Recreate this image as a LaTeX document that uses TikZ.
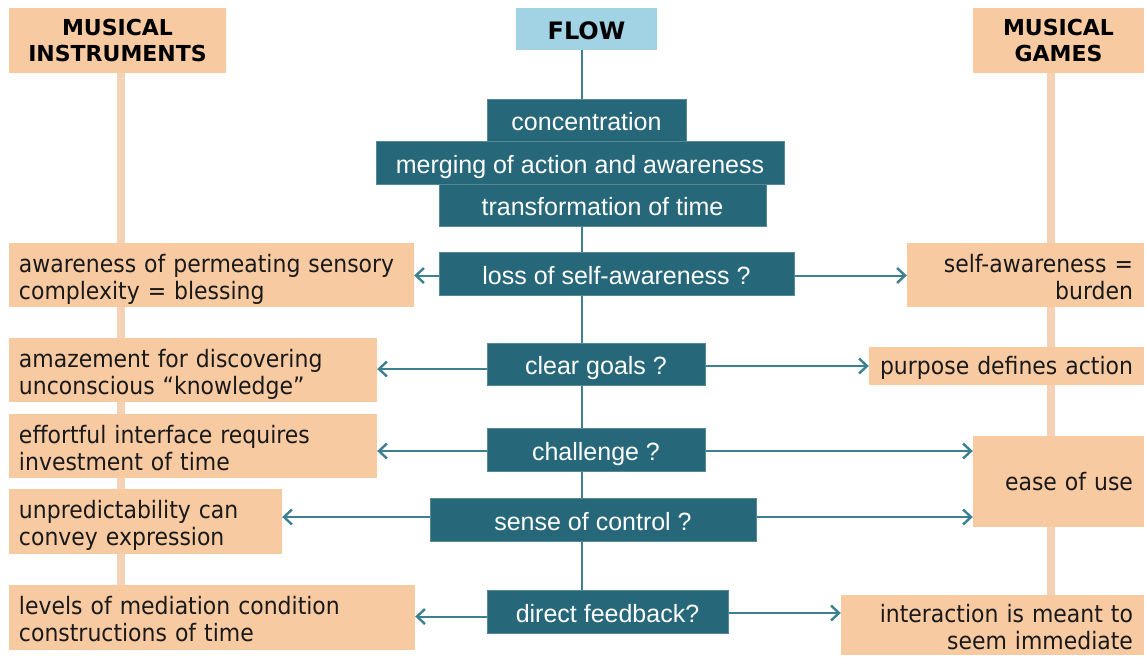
\documentclass[tikz,border=0pt]{standalone}
\usepackage{fontspec}
\usetikzlibrary{arrows.meta,backgrounds}
\newfontfamily\peachfont[FakeStretch=0.915]{DejaVu Sans}
\newfontfamily\headfont{DejaVu Sans}
\newfontfamily\tealfont{Liberation Sans}
\definecolor{tealbox}{RGB}{38,104,121}
\definecolor{tealedge}{RGB}{88,135,150}
\definecolor{peach}{RGB}{248,202,162}
\definecolor{flowblue}{RGB}{161,211,228}
\definecolor{connc}{RGB}{60,128,145}
\definecolor{peachline}{RGB}{245,210,182}
\definecolor{textblack}{RGB}{25,25,25}
\newcommand\topst{\rule{0pt}{26pt}}
\newcommand\botst{\rule[-5pt]{0pt}{5pt}}
\newcommand\onest{\rule[-3pt]{0pt}{24pt}}
\tikzset{
  tbox/.style={fill=tealbox, draw=tealedge, line width=0.6pt, text=white,
    font=\tealfont\fontsize{25}{30}\selectfont, inner sep=0pt, text height=24pt, text depth=3pt},
  pbox/.style={fill=peach, text=textblack,
    font=\peachfont\fontsize{24}{27}\selectfont, inner xsep=10pt, inner ysep=0pt},
  hbox/.style={fill=peach, text=black, align=center, inner sep=0pt,
    font=\headfont\bfseries\fontsize{22}{26}\selectfont},
  conn/.style={draw=connc, line width=2pt},
  arr/.style={conn, -{Straight Barb[length=8pt,width=15pt,line width=2.4pt]}},
  pline/.style={draw=peachline, line width=8pt},
}
\begin{document}
\begin{tikzpicture}[x=1pt,y=-1pt]
\useasboundingbox (0,0) rectangle (1146,657);
% headers
\node[hbox, minimum width=217pt, minimum height=65pt] (mi) at (117.5,40.5) {\rule{0pt}{19pt}MUSICAL\\INSTRUMENTS\rule[-4pt]{0pt}{4pt}};
\node[hbox, minimum width=171pt, minimum height=65pt] (mg) at (1058.5,40.5) {\rule{0pt}{19pt}MUSICAL\\GAMES\rule[-4pt]{0pt}{4pt}};
\node[fill=flowblue, text=black, inner sep=0pt, minimum width=141pt, minimum height=42pt,
  text height=20pt, text depth=0pt,
  font=\headfont\bfseries\fontsize{24}{28}\selectfont] (flow) at (586.5,29) {FLOW};
% teal column
\node[tbox, minimum width=199pt, minimum height=42pt] (conc) at (586.5,120) {concentration};
\node[tbox, minimum width=408pt, minimum height=43pt] (merg) at (580,162.5) {merging of action and awareness};
\node[tbox, minimum width=327pt, minimum height=42pt] (trans) at (602.5,205) {transformation of time};
\node[tbox, minimum width=355pt, minimum height=43pt] (loss) at (616.5,273.5) {loss of self-awareness ?};
\node[tbox, minimum width=218pt, minimum height=42pt] (clear) at (596,364) {clear goals ?};
\node[tbox, minimum width=218pt, minimum height=43pt] (chal) at (596,449.5) {challenge ?};
\node[tbox, minimum width=326pt, minimum height=43pt] (sense) at (593,519.5) {sense of control ?};
\node[tbox, minimum width=241pt, minimum height=43pt] (direct) at (607.5,611.5) {direct feedback?};
% left column
\node[pbox, minimum width=405pt, minimum height=64pt, text width=385pt, align=left] (aw) at (211.5,275)
  {\topst awareness of permeating sensory\\complexity = blessing\botst};
\node[pbox, minimum width=368pt, minimum height=64pt, text width=348pt, align=left] (amaz) at (193,370)
  {\topst amazement for discovering\\unconscious “knowledge”\botst};
\node[pbox, minimum width=368pt, minimum height=64pt, text width=348pt, align=left] (eff) at (193,446)
  {\topst effortful interface requires\\investment of time\botst};
\node[pbox, minimum width=273pt, minimum height=65pt, text width=253pt, align=left] (unp) at (145.5,521.5)
  {\topst unpredictability can\\convey expression\botst};
\node[pbox, minimum width=406pt, minimum height=65pt, text width=386pt, align=left] (lev) at (212,617.5)
  {\topst levels of mediation condition\\constructions of time\botst};
% right column
\node[pbox, minimum width=237pt, minimum height=64pt, text width=215pt, inner xsep=11pt, align=right] (burden) at (1025.5,275)
  {\topst self-awareness =\\burden\botst};
\node[pbox, minimum width=275pt, minimum height=38pt, text width=253pt, inner xsep=11pt, align=right] (purpose) at (1006.5,366)
  {\onest purpose defines action};
\node[pbox, minimum width=171pt, minimum height=91pt, text width=149pt, inner xsep=11pt, align=right] (ease) at (1058.5,481.5)
  {\onest ease of use};
\node[pbox, minimum width=303pt, minimum height=60pt, text width=281pt, inner xsep=11pt, align=right] (inter) at (992.5,625)
  {\topst interaction is meant to\\seem immediate\botst};
% connectors
\begin{scope}[on background layer]
\draw[pline] ([xshift=3.5pt]mi.south) -- ([xshift=3.5pt]mi.south |- lev.north);
\draw[pline] ([xshift=-7.5pt]mg.south) -- ([xshift=-7.5pt]mg.south |- inter.north);
\draw[conn] ([xshift=-4.5pt]flow.south) -- ([xshift=-4.5pt]flow.south |- direct.north);
\draw[arr] ([yshift=-2pt]loss.west) -- ([yshift=-2pt]loss.west -| aw.east);
\draw[arr] ([yshift=-2pt]loss.east) -- ([yshift=-2pt]loss.east -| burden.west);
\draw[arr] ([yshift=-5pt]clear.west) -- ([yshift=-5pt]clear.west -| amaz.east);
\draw[arr] ([yshift=-2pt]clear.east) -- (purpose.west);
\draw[arr] ([yshift=-1.5pt]chal.west) -- ([yshift=-1.5pt]chal.west -| eff.east);
\draw[arr] ([yshift=-1.5pt]chal.east) -- ([yshift=-1.5pt]chal.east -| ease.west);
\draw[arr] ([yshift=2.5pt]sense.west) -- ([yshift=2.5pt]sense.west -| unp.east);
\draw[arr] ([yshift=2.5pt]sense.east) -- ([yshift=2.5pt]sense.east -| ease.west);
\draw[arr] ([yshift=-5pt]direct.west) -- ([yshift=-5pt]direct.west -| lev.east);
\draw[arr] ([yshift=-1.5pt]direct.east) -- ([yshift=-1.5pt]direct.east -| inter.west);
\end{scope}
\end{tikzpicture}
\end{document}
